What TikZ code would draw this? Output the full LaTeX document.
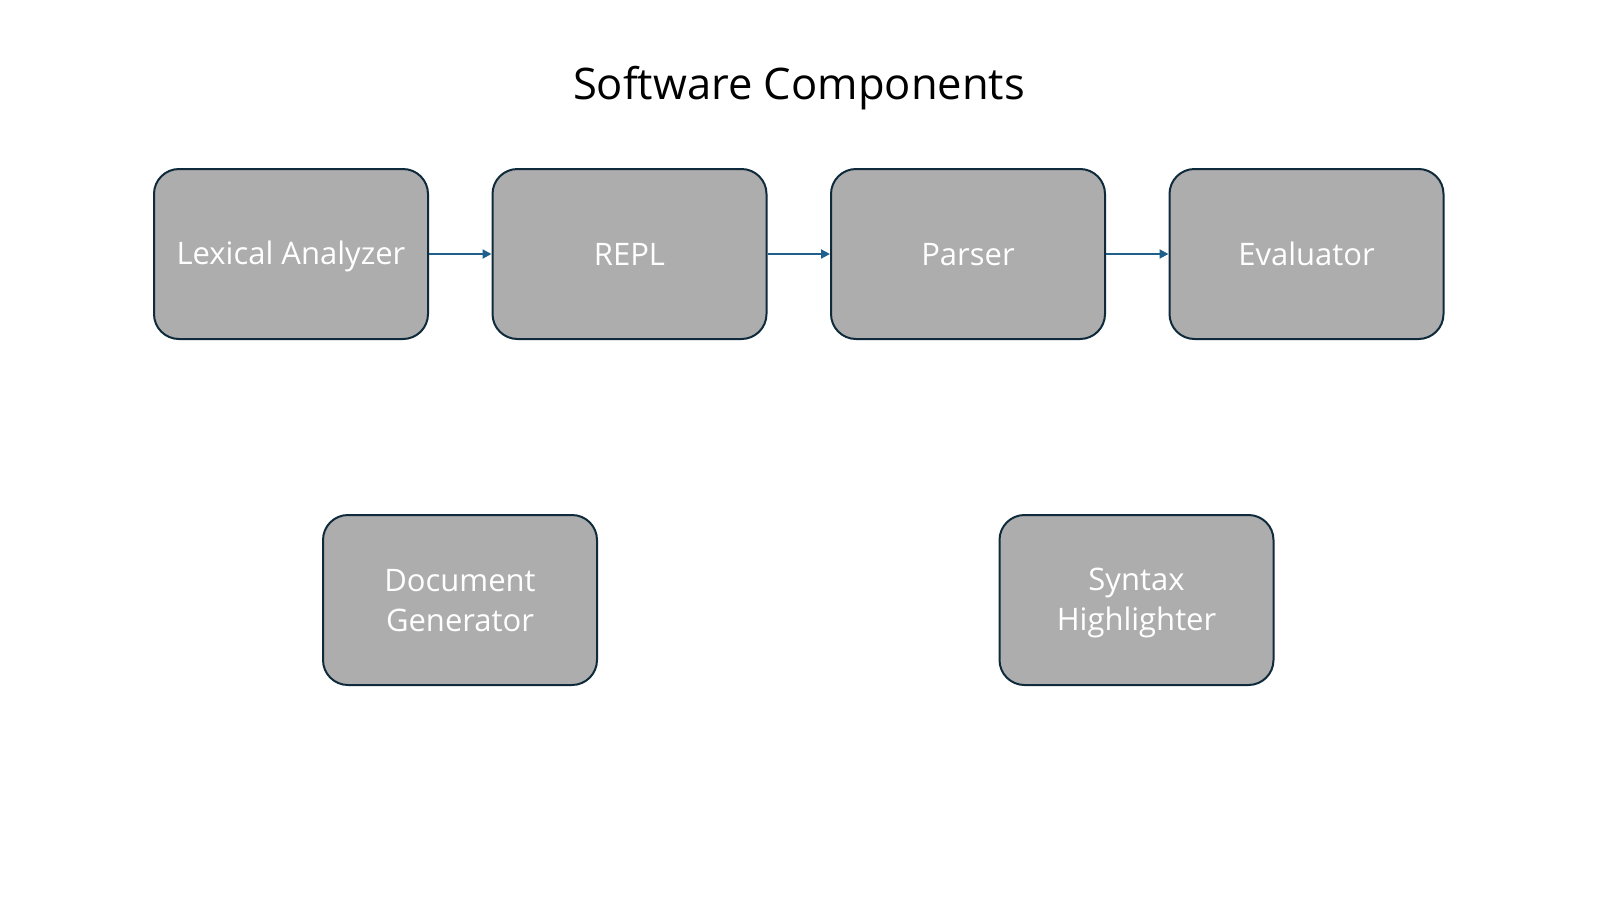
\documentclass[tikz,border=0pt]{standalone}
\usepackage{fontspec}
\setmainfont{Open Sans}
\usepackage{tikz}
\usetikzlibrary{arrows.meta}

\definecolor{boxfill}{HTML}{ADADAD}
\definecolor{boxline}{HTML}{0E2A3B}
\definecolor{linkblue}{HTML}{1F5F8B}
% keeps every line of a box at the same height
\newcommand{\cstrut}{\rule[-6.9pt]{0pt}{35.9pt}}

\begin{document}
\begin{tikzpicture}[x=1pt,y=-1pt,
		component/.style={rectangle,rounded corners=25pt,draw=boxline,line width=2pt,fill=boxfill,
			minimum width=274pt,minimum height=170pt,text=white,align=center,
			font=\fontsize{31}{40}\selectfont},
		link/.style={draw=linkblue,line width=2pt,-{Triangle[length=9pt,width=9pt]}}]
			\useasboundingbox (0,0) rectangle (1600,900);
			\node[anchor=base,font=\fontsize{43.5}{52}\selectfont] (title) at (799,99) {Software Components};
			
			\foreach \name/\txt [count=\i] in {lex/Lexical Analyzer,repl/REPL,parse/Parser,eval/Evaluator} {
				\node[component] (\name) at ({291 + (\i - 1) * 338.5},254) {\cstrut\txt};
			}
			\node[component] (docgen) at (460,600) {\cstrut Document\\\cstrut Generator};
			\node[component] (syntax) at (1136.5,600) {\cstrut Syntax\\\cstrut Highlighter};
			
			\draw[link] (lex) -- (repl);
			\draw[link] (repl) -- (parse);
			\draw[link] (parse) -- (eval);
		\end{tikzpicture}
\end{document}
